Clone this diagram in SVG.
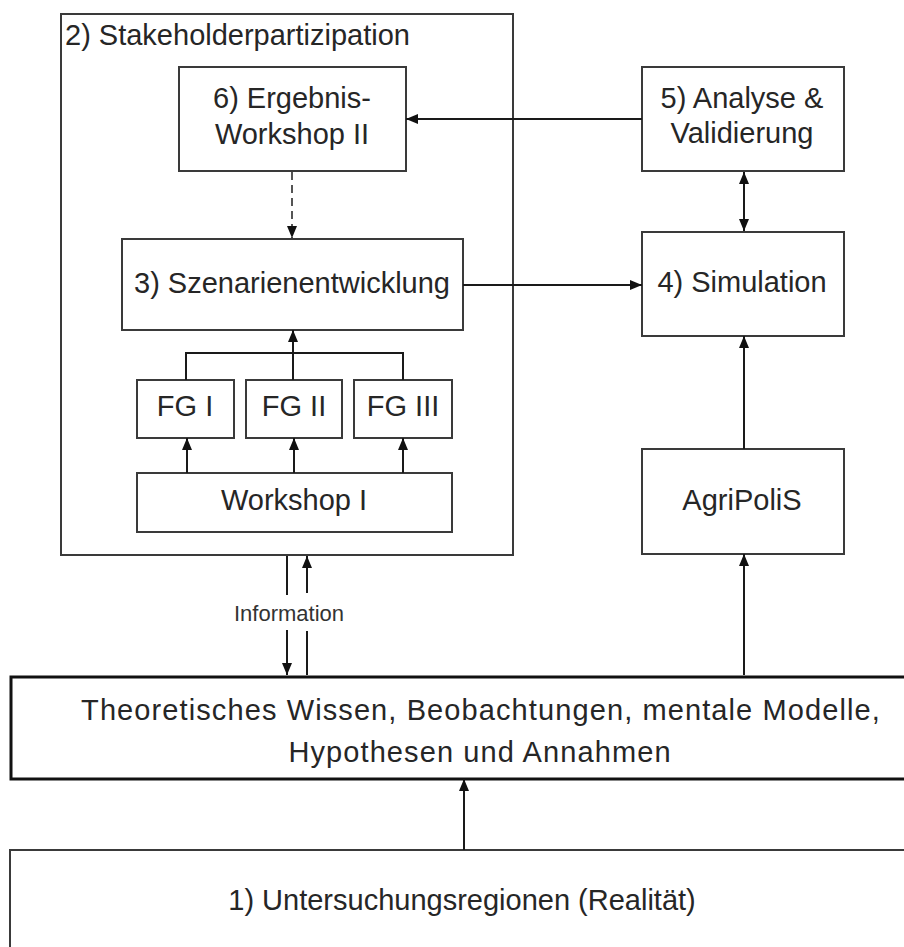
<svg xmlns="http://www.w3.org/2000/svg" width="904" height="947" viewBox="0 0 904 947">
<style>
  .box{fill:none;stroke:#3a3a3a;stroke-width:2}
  .thick{fill:none;stroke:#111;stroke-width:3}
  .t{font-family:"Liberation Sans",Arial,sans-serif;font-size:29px;fill:#262626;text-anchor:middle}
  .ts{font-family:"Liberation Sans",Arial,sans-serif;font-size:22px;fill:#333;text-anchor:middle}
  .c{fill:none;stroke:#1a1a1a;stroke-width:2}
  .d{fill:none;stroke:#555;stroke-width:2;stroke-dasharray:8,5}
</style>
<defs>
  <marker id="ah" markerUnits="userSpaceOnUse" markerWidth="12" markerHeight="10" refX="12" refY="5" orient="auto-start-reverse" viewBox="0 0 12 10">
    <path d="M0,0 L12,5 L0,10 z" fill="#111"/>
  </marker>
</defs>
<rect width="904" height="947" fill="#fff"/>

<g id="stakeholder">
  <rect class="box" x="61" y="14" width="452" height="541"/>
  <text class="t" x="65" y="45" style="text-anchor:start">2) Stakeholderpartizipation</text>
</g>
<g id="n6">
  <rect class="box" x="179" y="67" width="227" height="104"/>
  <text class="t" x="292" y="108">6) Ergebnis-</text>
  <text class="t" x="292" y="144">Workshop II</text>
</g>
<g id="n3">
  <rect class="box" x="122" y="239" width="341" height="91"/>
  <text class="t" x="292" y="293">3) Szenarienentwicklung</text>
</g>
<g id="fg1">
  <rect class="box" x="137" y="380" width="97" height="58"/>
  <text class="t" x="185" y="416">FG I</text>
</g>
<g id="fg2">
  <rect class="box" x="246" y="380" width="96" height="58"/>
  <text class="t" x="294" y="416">FG II</text>
</g>
<g id="fg3">
  <rect class="box" x="354" y="380" width="98" height="58"/>
  <text class="t" x="403" y="416">FG III</text>
</g>
<g id="ws1">
  <rect class="box" x="137" y="473" width="315" height="59"/>
  <text class="t" x="294" y="510">Workshop I</text>
</g>
<g id="n5">
  <rect class="box" x="642" y="67" width="202" height="104"/>
  <text class="t" x="742" y="108">5) Analyse &amp;</text>
  <text class="t" x="742" y="143">Validierung</text>
</g>
<g id="n4">
  <rect class="box" x="642" y="232" width="202" height="104"/>
  <text class="t" x="742" y="292">4) Simulation</text>
</g>
<g id="agripolis">
  <rect class="box" x="642" y="449" width="202" height="105"/>
  <text class="t" x="742" y="510">AgriPoliS</text>
</g>
<g id="wissen">
  <rect class="thick" x="11" y="677" width="940" height="102"/>
  <text class="t" x="481" y="720" style="letter-spacing:1.1px">Theoretisches Wissen, Beobachtungen, mentale Modelle,</text>
  <text class="t" x="480" y="762" style="letter-spacing:1.1px">Hypothesen und Annahmen</text>
</g>
<g id="n1">
  <rect class="box" x="10" y="850" width="910" height="120"/>
  <text class="t" x="462" y="910">1) Untersuchungsregionen (Realität)</text>
</g>

<g id="connectors">
  <path class="c" d="M642,119 L406,119" marker-end="url(#ah)"/>
  <path class="d" d="M292,172 L292,238" marker-end="url(#ah)"/>
  <path class="c" d="M463,285 L642,285" marker-end="url(#ah)"/>
  <path class="c" d="M744,172 L744,231" marker-start="url(#ah)" marker-end="url(#ah)"/>
  <path class="c" d="M744,449 L744,336" marker-end="url(#ah)"/>
  <path class="c" d="M744,675 L744,554" marker-end="url(#ah)"/>
  <path class="c" d="M186,380 V353 H403 V380"/>
  <path class="c" d="M293,380 V330" marker-end="url(#ah)"/>
  <path class="c" d="M187,473 V438" marker-end="url(#ah)"/>
  <path class="c" d="M294,473 V438" marker-end="url(#ah)"/>
  <path class="c" d="M403,473 V438" marker-end="url(#ah)"/>
  <path class="c" d="M287,556 V595"/>
  <path class="c" d="M287,630 V675" marker-end="url(#ah)"/>
  <path class="c" d="M307,675 V631"/>
  <path class="c" d="M307,593 V556" marker-end="url(#ah)"/>
  <text class="ts" x="289" y="621">Information</text>
  <path class="c" d="M464,850 V779" marker-end="url(#ah)"/>
</g>
</svg>
